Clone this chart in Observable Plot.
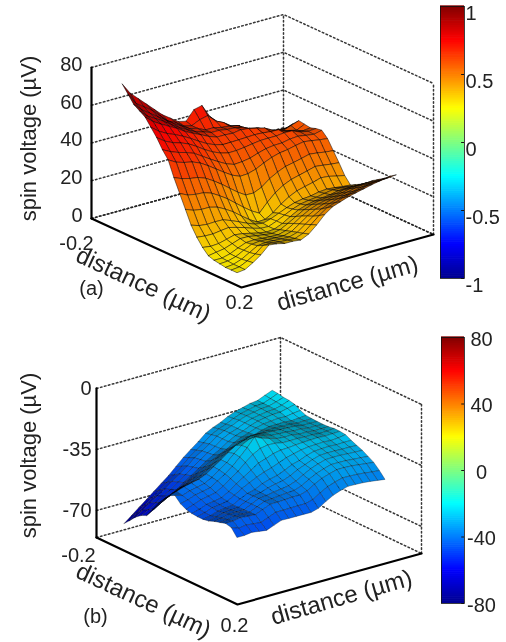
<!DOCTYPE html>
<html><head><meta charset="utf-8">
<script src="https://cdn.jsdelivr.net/npm/d3@7"></script>
<script src="https://cdn.jsdelivr.net/npm/@observablehq/plot@0.6"></script>
<style>
html,body{margin:0;padding:0;background:#fff}
#root{position:relative;width:506px;height:642px;overflow:hidden;filter:blur(.4px)}
#root>svg{position:absolute;overflow:visible;background:transparent}
</style></head><body><div id="root"></div>
<script>
// panel (a): spin voltage (uV), rows along the left floor axis, columns along the right floor axis
const surfaceA = [
[72,66,62,58,54,50,47,44,43,48,49,42,38,35,33,31,30,29,27,25,23.5],
[68,62,59,56,52,48,46,43,42,44,45,41,39,36,35,31,30,29.5,27.5,27,27],
[64,60,57,54,51,48,45.5,43,42,40,40,39,38.5,37.6,34,32,31,30,28.6,29,30.5],
[62,58,55.5,53,50,47.3,45,42.8,41.5,40,40,39.3,39,38.2,36,33.5,32.5,30.7,30.5,32,33.5],
[60,56.5,54,51.7,49.4,46.6,44.5,42.5,40.5,39,39,38.7,39.4,38.9,37.9,36.8,34.5,32.5,32,31,33],
[56,52.8,50.5,48.7,46.7,44.3,41.7,39.3,37.5,36.4,36.5,36.6,36.8,37,36.8,36.3,36.1,34,33,32,32.5],
[52,49,47,45.7,44,41.5,38.7,36.3,34.5,33.4,33.5,34,34.7,35.3,35.4,35.4,35.9,35.8,34,33.2,33.5],
[47,44.8,43.2,42,40.4,37.7,35,32.5,30.2,28.7,29,29.7,31.2,32.4,33,33.1,34,34.3,33.6,33,34],
[43,40.6,39.3,38.4,36.7,34.1,31.2,28.3,25.6,23.8,24,25.3,27.4,29.2,30.4,31,32,32.8,32.2,31.5,31],
[35,33.3,32.2,31.6,30,27.4,24.5,21.2,18,15.3,15.2,17.1,20.4,22.8,24.6,25.5,26.5,27.6,27.1,26.4,26],
[28,26,25.2,24.9,23.5,21,18.2,14.8,11.4,8.3,5.9,10.5,14.4,17.2,19.1,20.2,21.3,22.5,22,21.4,21],
[21,19.3,18.6,18.6,17.5,15.3,12.7,9.4,6.3,3.8,4,6.4,9.8,12.5,14.5,15.6,16.6,17.9,17.5,16.5,15.6],
[14,12.6,12.1,12.3,12.2,10.6,8.8,6.9,5.2,4.5,5.7,7.5,9.3,10.8,11.6,12,12.9,13.3,12.9,12.3,12],
[9,8.5,8.4,9,9.5,8.4,7.1,5.6,4.4,4.2,5.9,7.9,9.9,11.4,12.2,12.7,13.6,14.2,14.1,13.7,13.6],
[5,4.4,4.7,5.8,7,6.5,5.5,4.5,3.8,4.2,6,8.5,10.8,12.3,13.2,13.8,14.3,15.2,15.3,15.2,15.3],
[2,2.7,3.4,4.9,6.4,6.3,5.6,4.9,4.5,5.3,7.5,10,12.4,14,15,15.5,16.2,17.1,17.4,17.5,17.5],
[1,1,2.1,4,5.7,6,5.6,5.3,5.1,6.2,8.8,11.6,13.9,15.5,16.5,17.2,18,19,19.4,19.7,20],
[.5,.8,2,4.2,6.2,6.7,6.4,6.1,6,7.2,10,13,15.4,17,18.2,19,19.8,20.8,21.4,21.7,22],
[0,.5,2,4.4,6.8,7.4,7.2,6.9,6.8,8.1,11.2,14.3,16.9,18.6,19.9,20.7,21.6,22.6,23.3,23.6,24],
[0,.5,2.5,5,8.4,8.5,7.9,7.7,7.4,9,12.4,16,19,20.5,22,22.9,23.8,24.8,25.5,25.9,26.5],
[0,.5,3,6,10,9.5,8.5,8.5,8,10,13.7,18,21,22.5,24,25,26,27,27.8,28.2,28.6]
];
// panel (b)
const surfaceB = [
[-76.7,-73.3,-69.8,-66.5,-63,-59.6,-56.2,-52.2,-48.2,-44.8,-41.5,-37.9,-35.7,-34,-31.8,-30.1,-29,-27.8,-27.3,-25.5,-23.8],
[-73.5,-70.2,-67,-63.9,-60.8,-57.5,-54.3,-50.6,-46.8,-43.7,-40.7,-37.2,-35.1,-33.5,-31.4,-29.8,-28.8,-27.8,-27.4,-25.9,-24.1],
[-70,-67.1,-64.1,-61.3,-58.5,-55.3,-52.3,-48.9,-45.4,-42.6,-39.8,-36.5,-34.5,-32.9,-30.9,-29.5,-28.6,-27.8,-27.5,-26.2,-24.8],
[-67.5,-65.3,-62.5,-59.9,-57.3,-54.2,-51.3,-48,-44.9,-42.2,-39.6,-36.5,-34.4,-32.9,-30.9,-29.5,-28.7,-28,-27.7,-26.6,-25],
[-66,-63.5,-60.8,-58.5,-56,-53,-50.2,-47.2,-44.3,-41.8,-39.4,-36.5,-34.3,-32.8,-30.9,-29.5,-28.7,-28.1,-27.9,-26.9,-25.8],
[-61,-58.9,-56.6,-54.6,-52.6,-50,-47.5,-44.9,-42.4,-40.2,-38.3,-35.7,-33.7,-32.4,-30.7,-29.6,-29.1,-28.7,-28.9,-28.2,-27.7],
[-56,-54.2,-52.3,-50.7,-49.2,-47,-44.7,-42.5,-39.4,-37.2,-35.6,-33.5,-32.1,-31.9,-30.5,-29.6,-29.5,-29.3,-29.8,-29.4,-29],
[-52,-50.7,-49,-47.7,-46.5,-44.5,-41.8,-39.1,-36.4,-34.1,-32.6,-30.8,-29.9,-29.6,-29,-28.9,-29,-29,-29.6,-29.4,-29.3],
[-48.4,-47.2,-45.7,-44.7,-43.8,-41.9,-39,-36.1,-33,-30.1,-28.7,-27.2,-27.3,-27.7,-27.9,-28.2,-28.4,-28.6,-29.3,-29.3,-29.4],
[-46.8,-48,-46.5,-45.6,-44.7,-42.3,-39.3,-36.2,-32.2,-28.7,-26.4,-25.8,-26.4,-27.6,-27.9,-28.1,-28.6,-28.7,-29.3,-29.3,-29.5],
[-50,-48.9,-47.3,-46.5,-45.6,-42.9,-40,-36.8,-32.7,-28.4,-23.5,-25.4,-26.7,-27.9,-28.3,-28.2,-28.9,-28.9,-29.4,-29.3,-29.3],
[-51.7,-50.1,-48.5,-47.7,-46.8,-44.2,-41.1,-38.1,-34.2,-30.8,-28.5,-27.7,-27.9,-28.8,-28.8,-28.7,-29,-28.9,-29.3,-29.2,-28.8],
[-52.5,-51.3,-49.7,-49,-48.1,-45.8,-42.6,-39.9,-37,-34.2,-32.8,-31.1,-30.3,-30.1,-29.7,-29.4,-29.2,-29,-29.3,-29.1,-28.9],
[-52.8,-51.6,-50.1,-49.5,-48.7,-46.4,-43.7,-41.6,-39.5,-37.8,-36.5,-34.8,-33.1,-32,-31,-30.4,-30.2,-30,-30.3,-30,-29.3],
[-52.8,-51.8,-50.5,-49.9,-49.3,-47,-45,-43.9,-41.7,-40.4,-39.4,-37.6,-35.5,-34.4,-32.6,-31.4,-31.1,-30.9,-31.2,-31,-31],
[-52.2,-51,-49.9,-49.5,-49.1,-47,-45,-44.1,-42.6,-41.6,-40.8,-39.2,-36.9,-35.2,-33.5,-32.2,-32,-32,-32.2,-32.2,-32.4],
[-50.9,-50.2,-49.2,-49,-49,-46.9,-44.9,-44.3,-43.5,-42.9,-42.3,-40.7,-38.3,-36,-34.4,-33.1,-33,-33,-33.3,-33.5,-33.7],
[-50,-49.5,-48.7,-48.7,-48.8,-46.9,-45,-44.6,-44.1,-43.7,-43.4,-41.9,-39.4,-37.2,-35.7,-34.4,-34.4,-34.5,-34.9,-35.2,-35.6],
[-49,-48.8,-48.1,-48.4,-48.7,-46.9,-45.1,-45,-44.8,-44.5,-44.5,-43.2,-40.6,-38.4,-37,-35.8,-35.8,-36,-36.5,-37,-37.5],
[-49.8,-51.4,-50.7,-51.2,-51.6,-49.9,-48.1,-48.1,-48,-47.9,-47.9,-46.7,-44,-41.7,-40.2,-39,-39.1,-39.3,-39.7,-40.3,-40.6],
[-54,-54,-53.4,-54,-54.6,-52.9,-51.2,-51.3,-51.3,-51.3,-51.4,-50.2,-47.5,-45.1,-43.5,-42.3,-42.4,-42.6,-43,-43.6,-44.2]
];
const zTicksA = [0,20,40,60,80];
const zTicksB = [0,-35,-70];
const barTicksA = [1,0.5,0,-0.5,-1];
const barTicksB = [80,40,0,-40,-80];
const distanceLabel = "distance (µm)";
const voltageLabel = "spin voltage (µV)";
const font = "Liberation Sans, Arial, sans-serif";
const ink = "#222";

const jetStops = [0,.125,.375,.625,.875,1];
const jetColors = ["#00008f","#0000ff","#00ffff","#ffff00","#ff0000","#800000"];
const jet = d3.scaleLinear().domain(jetStops).range(jetColors).clamp(true);

function panel({svgTop, origin, uVec, vVec, pxPerUnit, zMin, zMax, zTicks, grid, uRange, vRange, colorDomain, shade, meshOpacity, meshWidth, labels}) {
  const project = (a, b, z) => {
    const u = (a + .2) / .4, v = (b + .2) / .4;
    return [origin[0] + u*uVec[0] + v*vVec[0],
            origin[1] + u*uVec[1] + v*vVec[1] - (z - zMin)*pxPerUnit - svgTop];
  };
  const px = d => project(...d)[0], py = d => project(...d)[1];
  const n = grid.length, m = grid[0].length;
  const gu = i => uRange[0] + (uRange[1]-uRange[0])*i/(n-1);
  const gv = j => vRange[0] + (vRange[1]-vRange[0])*j/(m-1);
  const colorScale = Plot.scale({color:{type:"linear", domain:colorDomain, interpolate:t=>jet(t)}});
  const quads = [];
  const corner = (a,b) => [gu(a), gv(b), grid[a][b]];
  const flat = d3.polygonArea([[0,0],[1,0],[1,1],[0,1]].map(([a,b]) => project(gu(a), gv(b), zMin)));
  for (let i = 0; i < n-1; i++) for (let j = m-2; j >= 0; j--) {
    const id = i*100 + j;
    const ring = [[i,j],[i+1,j],[i+1,j+1],[i,j+1]];
    const mean = d3.mean(ring, ([a,b]) => grid[a][b]);
    // mesh lines crowd together where the surface turns edge-on: shade by projected cell size
    const signed = d3.polygonArea(ring.map(([a,b]) => project(...corner(a,b)))) / flat;
    const f = Math.max(shade.min, Math.min(shade.max, shade.gain * (shade.base + (1 - shade.base) * signed)));
    const c = d3.rgb(colorScale.apply(mean));
    const fill = d3.rgb(Math.min(255,c.r*f), Math.min(255,c.g*f), Math.min(255,c.b*f)).formatRgb();
    for (const [a,b] of [...ring, ring[0]]) quads.push({id, fill, p:corner(a,b)});
  }
  const levels = [...zTicks, zMin];
  const dotted = {x:px, y:py, stroke:ink, strokeWidth:1.5, strokeDasharray:"1.6 2.5", strokeOpacity:.9};
  const solid = {x:px, y:py, stroke:"#000", strokeWidth:2.2};
  const marks = [];
  for (const z of levels) marks.push(Plot.line([[-.2,-.2,z],[-.2,.2,z],[.2,.2,z]], dotted));
  marks.push(Plot.line([[-.2,.2,zMin],[-.2,.2,zMax]], dotted));
  marks.push(Plot.line([[.2,.2,zMin],[.2,.2,zMax]], dotted));
  marks.push(Plot.line(quads, {x:d=>px(d.p), y:d=>py(d.p), z:"id", fill:"fill", stroke:"#000", strokeWidth:meshWidth, strokeOpacity:meshOpacity, strokeLinejoin:"round"}));
  marks.push(Plot.line([[-.2,-.2,zMin],[-.2,-.2,zMax]], solid));
  marks.push(Plot.line([[-.2,-.2,zMin],[.2,-.2,zMin],[.2,.2,zMin]], solid));
  marks.push(Plot.text(zTicks, {x:z=>px([-.2,-.2,z]), y:z=>py([-.2,-.2,z]), text:d=>String(d), textAnchor:"end", dx:labels.zDx, dy:labels.zDy, fontSize:20, fill:ink}));
  marks.push(Plot.text(labels.free, {x:"x", y:d=>d.y - svgTop, text:"text", rotate:"rotate", fontSize:"size", textAnchor:"middle", fill:ink}));
  return Plot.plot({
    width:506, height:322, margin:0,
    x:{type:"identity", axis:null}, y:{type:"identity", axis:null},
    style:{fontFamily:font, background:"transparent", top:svgTop+"px", left:"0px"},
    marks
  });
}

function colorBar({left, top, barW, barH, domain, ticks, textDx, anchor, dy}) {
  const strips = d3.range(0,128).map(k => k/128);
  const span = domain[1]-domain[0];
  return Plot.plot({
    width:barW+70, height:barH+20, marginLeft:0, marginRight:70, marginTop:0, marginBottom:20,
    x:{domain:[0,1], axis:null}, y:{domain, axis:null},
    color:{type:"linear", domain, interpolate:t=>jet(t)},
    style:{fontFamily:font, background:"transparent", left:left+"px", top:top+"px"},
    marks:[
      Plot.rect(strips, {x1:0, x2:1, y1:k=>domain[0]+k*span, y2:k=>domain[0]+(k+1/128)*span+span/400, fill:k=>domain[0]+(k+.5/128)*span}),
      Plot.frame({stroke:"#111", strokeWidth:.8}),
      Plot.ruleY(ticks, {y:d=>d, x1:.88, x2:1, stroke:"#111", strokeWidth:1}),
      Plot.text(ticks, {x:1, y:d=>d, text:d=>String(d), dx:textDx, dy, textAnchor:anchor, fontSize:20, fill:ink})
    ]
  });
}

const root = document.getElementById("root");

root.append(panel({
  svgTop:0, origin:[91,218], uVec:[150,69], vVec:[192,-53], pxPerUnit:151/80,
  zMin:0, zMax:80, zTicks:zTicksA, grid:surfaceA,
  uRange:[-.164,.142], vRange:[-.164,.168], colorDomain:[-139,78], shade:{base:.6, gain:.84, min:.45, max:.96}, meshOpacity:.65, meshWidth:.75,
  labels:{zDx:-9, zDy:-3, free:[
    {x:28, y:138, text:voltageLabel, rotate:-90, size:22},
    {x:143, y:284, text:distanceLabel, rotate:25, size:24},
    {x:347, y:283, text:distanceLabel, rotate:-16, size:24},
    {x:91, y:288, text:"(a)", rotate:0, size:20},
    {x:76, y:243, text:"-0.2", rotate:0, size:20},
    {x:239, y:302, text:"0.2", rotate:0, size:20}
  ]}
}));

root.append(panel({
  svgTop:320, origin:[96,537], uVec:[141,67], vVec:[184,-51], pxPerUnit:1.743,
  zMin:-85.5, zMax:0, zTicks:zTicksB, grid:surfaceB,
  uRange:[-.166,.154], vRange:[-.166,.156], colorDomain:[-93,100], shade:{base:.5, gain:.7, min:.4, max:.92}, meshOpacity:.5, meshWidth:.6,
  labels:{zDx:-5, zDy:0, free:[
    {x:28, y:455, text:voltageLabel, rotate:-90, size:22},
    {x:143, y:600, text:distanceLabel, rotate:25, size:24},
    {x:341, y:597, text:distanceLabel, rotate:-16, size:24},
    {x:95, y:616, text:"(b)", rotate:0, size:20},
    {x:78, y:555, text:"-0.2", rotate:0, size:20},
    {x:234, y:625, text:"0.2", rotate:0, size:20}
  ]}
}));

root.append(colorBar({left:440, top:6, barW:24, barH:272, domain:[-1,1], ticks:barTicksA, textDx:1, anchor:"start", dy:7}));
root.append(colorBar({left:441, top:337, barW:23, barH:266, domain:[-80,80], ticks:barTicksB, textDx:17, anchor:"middle", dy:2}));
</script></body></html>
